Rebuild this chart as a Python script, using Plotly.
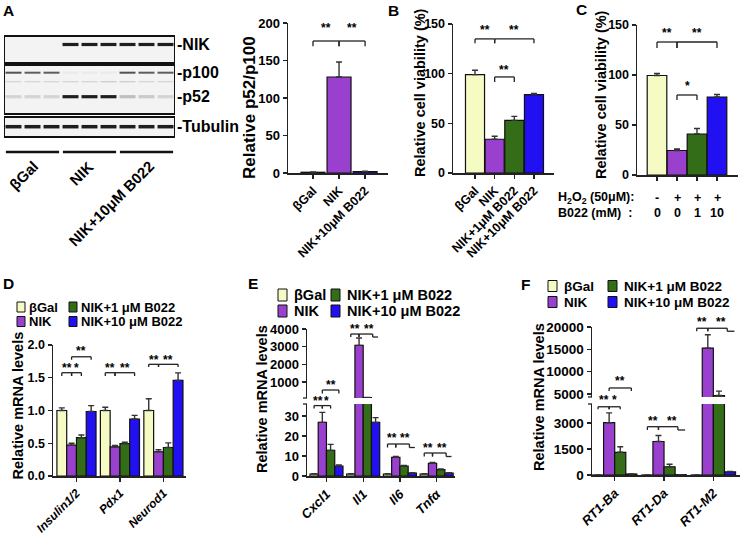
import plotly.graph_objects as go

W, H = 740, 534
FONT = "Arial, 'Liberation Sans', Helvetica, sans-serif"
AX = "#222222"

# ---------------- data ----------------
colors = ["#F6FBC3", "#9A40CF", "#336D17", "#2010F2"]  # βGal, NIK, NIK+1, NIK+10
legend_names = ["βGal", "NIK", "NIK+1 μM B022", "NIK+10 μM B022"]

# Panel A: western blot (relative band intensity per lane)
blot_lane_groups = ["βGal", "NIK", "NIK+10μM B022"]
blot_labels = ["-NIK", "-p100", "-p52", "-Tubulin"]
band_nik = [0, 0, 0, 1, 1, 1, 1, 1, 1]
band_p100 = [0.75, 0.7, 0.7, 0.05, 0.05, 0.05, 0.75, 0.7, 0.7]
band_ns = [0.15, 0.15, 0.15, 0.15, 0.15, 0.2, 0.2, 0.15, 0.15]
band_p52 = [0.15, 0.15, 0.15, 1, 1, 1, 0.25, 0.2, 0.15]
band_tub = [1, 1, 1, 1, 1, 1, 1, 1, 1]

# Panel A: quantification
a_cats = ["βGal", "NIK", "NIK+10μM B022"]
a_vals = [1, 128, 2]
a_err = [0.3, 20, 0.5]

# Panel B
b_cats = ["βGal", "NIK", "NIK+1μM B022", "NIK+10μM B022"]
b_vals = [99, 34, 53, 79]
b_err = [4.5, 3, 4, 1]

# Panel C
c_cats = ["ctrl", "H2O2", "H2O2+1", "H2O2+10"]
c_h2o2 = ["-", "+", "+", "+"]
c_b022 = ["0", "0", "1", "10"]
c_vals = [99.5, 24.5, 41, 78]
c_err = [2, 1.5, 5.5, 2.5]

# Panel D
d_genes = ["Insulin1/2", "Pdx1", "Neurod1"]
d_vals = [
    [1.0, 1.0, 1.0],
    [0.47, 0.445, 0.37],
    [0.585, 0.495, 0.435],
    [0.985, 0.87, 1.46],
]
d_errs = [
    [0.04, 0.05, 0.18],
    [0.03, 0.02, 0.03],
    [0.04, 0.02, 0.07],
    [0.09, 0.055, 0.115],
]

# Panel E
e_genes = ["Cxcl1", "Il1", "Il6", "Tnfα"]
e_vals = [
    [1, 1, 1, 1],
    [26.8, 3075, 9.3, 6.3],
    [12.8, 110, 5.0, 3.2],
    [5.0, 26.8, 1.5, 1.5],
]
e_errs = [
    [0.2, 0.2, 0.2, 0.2],
    [5, 415, 0.5, 0.5],
    [3, 15, 0.3, 0.3],
    [0.5, 2.4, 0.2, 0.2],
]

# Panel F
f_genes = ["RT1-Ba", "RT1-Da", "RT1-M2"]
f_vals = [
    [1, 1, 1],
    [3020, 1935, 15275],
    [1310, 475, 4650],
    [57, 20, 180],
]
f_errs = [
    [0, 0, 0],
    [570, 345, 3000],
    [320, 150, 1000],
    [5, 3, 20],
]

# ---------------- geometry (pixel top, pixel bottom, range) ----------------
YGEOM = {
    "y": (23, 173, 0, 200),
    "y2": (24, 173, 0, 150),
    "y3": (25, 175, 0, 150),
    "y4": (345, 476, 0, 2.0),
    "y5": (404, 476, 0, 36),
    "y6": (329, 398, 94, 4000),
    "y7": (404, 475, 0, 4100),
    "y8": (327, 397, 4330, 20000),
}

# ---------------- helpers ----------------
fig = go.Figure()
shapes, ann = [], []


def px(x):
    return x / W


def py(y):
    return 1 - y / H


def ypix(axname, v):
    top, bot, r0, r1 = YGEOM[axname]
    return bot - (v - r0) / (r1 - r0) * (bot - top)


def txt(x, y, s, size, xref="paper", yref="paper", xanchor="center", yanchor="middle",
        angle=0, weight="bold", yshift=0, style="normal"):
    ann.append(dict(x=x, y=y, xref=xref, yref=yref, text=s, showarrow=False,
                    xanchor=xanchor, yanchor=yanchor, textangle=angle, yshift=yshift,
                    font=dict(family=FONT, size=size, color="black", weight=weight, style=style)))


def line(x0, y0, x1, y1, xref, yref, w=1.3, color=AX):
    shapes.append(dict(type="line", x0=x0, y0=y0, x1=x1, y1=y1, xref=xref, yref=yref,
                       line=dict(color=color, width=w)))


def bracket(xref, yref, xa, xb, y, d, tail=None):
    line(xa, y - d, xa, y, xref, yref)
    line(xa, y, xb, y, xref, yref)
    line(xb, y, xb, y - d, xref, yref)
    if tail is not None:
        line(xb, y - d, tail, y - d, xref, yref)


def stars(xref, yname, x, v, s, size=12):
    txt(x, py(ypix(yname, v)), s, size, xref=xref, yref="paper", yshift=-3)


def break_tick(axis_x_px, yname, v):
    # small tick at the cut end of a broken axis
    yy = py(ypix(yname, v))
    line(px(axis_x_px - 4), yy, px(axis_x_px), yy, "paper", "paper", w=1.3)


def eb(arr):
    return dict(type="data", array=arr, arrayminus=[0] * len(arr), symmetric=False,
                color="#333333", thickness=1.4, width=3)


def yax(name, size, anchor, tickvals, ticktext=None):
    top, bot, r0, r1 = YGEOM[name]
    return dict(domain=[py(bot), py(top)], range=[r0, r1], anchor=anchor, showline=True,
                linecolor=AX, linewidth=1.5, ticks="outside", ticklen=4, tickwidth=1.3,
                tickcolor=AX, showgrid=False, zeroline=False, tickmode="array",
                tickvals=tickvals, ticktext=ticktext if ticktext else [str(v) for v in tickvals],
                tickfont=dict(family=FONT, size=size, color="black", weight="bold"),
                fixedrange=True, automargin=False)


def xax(left, right, rng, anchor, size, labels=True, italic=False):
    return dict(domain=[px(left), px(right)], range=rng, anchor=anchor, type="category",
                showline=True, linecolor=AX, linewidth=1.5, ticks="outside", ticklen=4,
                tickwidth=1.3, tickcolor=AX, showgrid=False, zeroline=False, tickangle=-45,
                showticklabels=labels,
                tickfont=dict(family=FONT, size=size, color="black", weight="bold",
                              style="italic" if italic else "normal"),
                fixedrange=True, automargin=False)


BAR_LINE = dict(color="#111111", width=1.2)
BARGAP = 0.1
GW = (1 - BARGAP) / 4


def gx(g, j):
    return g + (j - 1.5) * GW


# ---------------- Panel A: blot ----------------
rows = [(band_nik, 44.5, 3.2), (band_p100, 72.7, 2.0), (band_ns, 81.7, 1.2),
        (band_p52, 96.7, 3.2), (band_tub, 126.7, 3.5)]
for vals, yrow, lw in rows:
    for lane, v in enumerate(vals):
        if v <= 0:
            continue
        g = int(245 - v * 215)
        fig.add_trace(go.Scatter(x=[lane + 0.08, lane + 0.92], y=[yrow, yrow], mode="lines",
                                 line=dict(color=f"rgb({g},{g},{g})", width=lw),
                                 xaxis="x9", yaxis="y9", hoverinfo="skip", showlegend=False))
for (y0, y1) in [(36, 63), (65, 114), (117, 137)]:
    shapes.append(dict(type="rect", xref="x9", yref="y9", x0=0, x1=9, y0=y0, y1=y1,
                       fillcolor="#f3f3f3", line=dict(color="#111111", width=2), layer="below"))
for lab, yrow in zip(blot_labels, [44.5, 72.7, 96.7, 126.7]):
    txt(px(175), yrow, lab, 16, yref="y9", xanchor="left")
for g, lab in enumerate(blot_lane_groups):
    line(g * 3 + 0.1, 152, g * 3 + 2.9, 152, "x9", "y9", w=2.5, color="#111111")
for lab, xe in zip(blot_lane_groups, [44, 99, 160]):
    txt(px(xe), py(155), lab, 15, xanchor="right", yanchor="top", angle=-45)

# ---------------- Panel A: quantification ----------------
fig.add_trace(go.Bar(x=a_cats, y=a_vals, width=0.92,
                     marker=dict(color=[colors[0], colors[1], colors[3]], line=BAR_LINE),
                     error_y=eb(a_err), xaxis="x", yaxis="y", showlegend=False))
bracket("x", "y", 0, 1, 176, 7)
bracket("x", "y", 1, 2, 176, 7)
stars("x", "y", 0.5, 197, "**")
stars("x", "y", 1.5, 197, "**")

# ---------------- Panel B ----------------
fig.add_trace(go.Bar(x=b_cats, y=b_vals, width=0.97,
                     marker=dict(color=colors, line=BAR_LINE),
                     error_y=eb(b_err), xaxis="x2", yaxis="y2", showlegend=False))
bracket("x2", "y2", 0, 1, 135, 4.5)
bracket("x2", "y2", 1, 3, 135, 4.5)
bracket("x2", "y2", 1, 2, 96.7, 5)
stars("x2", "y2", 0.5, 147, "**")
stars("x2", "y2", 2.0, 147, "**")
stars("x2", "y2", 1.5, 107, "**")

# ---------------- Panel C ----------------
fig.add_trace(go.Bar(x=c_cats, y=c_vals, width=0.98,
                     marker=dict(color=colors, line=BAR_LINE),
                     error_y=eb(c_err), xaxis="x3", yaxis="y3", showlegend=False))
bracket("x3", "y3", 0, 1, 133, 6)
bracket("x3", "y3", 1, 3, 133, 6)
bracket("x3", "y3", 1, 2, 80, 5)
stars("x3", "y3", 0.5, 145, "**")
stars("x3", "y3", 2.0, 145, "**")
stars("x3", "y3", 1.5, 92, "*")
txt(px(556), py(198), "H<sub>2</sub>O<sub>2</sub> (50μM):", 12.5, xanchor="left")
txt(px(556), py(213), "B022 (mM)  :", 12.5, xanchor="left")
for i, (h, b) in enumerate(zip(c_h2o2, c_b022)):
    txt(i, py(198), h, 12.5, xref="x3")
    txt(i, py(213), b, 12.5, xref="x3")

# ---------------- Panel D ----------------
for j in range(4):
    fig.add_trace(go.Bar(x=d_genes, y=d_vals[j], name=legend_names[j],
                         marker=dict(color=colors[j], line=BAR_LINE),
                         error_y=eb(d_errs[j]), xaxis="x4", yaxis="y4", showlegend=False))
bracket("x4", "y4", gx(0, 0), gx(0, 1), 1.577, 0.05)
bracket("x4", "y4", gx(0, 1), gx(0, 2), 1.577, 0.05)
bracket("x4", "y4", gx(0, 1), gx(0, 3), 1.82, 0.045)
stars("x4", "y4", (gx(0, 0) + gx(0, 1)) / 2, 1.69, "**")
stars("x4", "y4", (gx(0, 1) + gx(0, 2)) / 2, 1.69, "*")
stars("x4", "y4", (gx(0, 1) + gx(0, 3)) / 2, 1.95, "**")
bracket("x4", "y4", gx(1, 0), gx(1, 1), 1.577, 0.05)
bracket("x4", "y4", gx(1, 1), gx(1, 3), 1.577, 0.05)
stars("x4", "y4", (gx(1, 0) + gx(1, 1)) / 2, 1.70, "**")
stars("x4", "y4", (gx(1, 1) + gx(1, 3)) / 2, 1.70, "**")
bracket("x4", "y4", gx(2, 0), gx(2, 1), 1.705, 0.04)
bracket("x4", "y4", gx(2, 1), gx(2, 3), 1.705, 0.04)
stars("x4", "y4", (gx(2, 0) + gx(2, 1)) / 2, 1.81, "**")
stars("x4", "y4", (gx(2, 1) + gx(2, 3)) / 2, 1.81, "**")

# ---------------- Panel E (broken axis) ----------------
for j in range(4):
    for xa, ya in [("x5", "y5"), ("x6", "y6")]:
        fig.add_trace(go.Bar(x=e_genes, y=e_vals[j], name=legend_names[j],
                             marker=dict(color=colors[j], line=BAR_LINE),
                             error_y=eb(e_errs[j]), xaxis=xa, yaxis=ya, showlegend=False))
break_tick(307, "y5", 36)
break_tick(307, "y6", 94)
# Cxcl1
bracket("x5", "y5", gx(0, 0), gx(0, 1), 35.2, 1.5)
bracket("x5", "y5", gx(0, 1), gx(0, 2), 35.2, 1.5)
stars("x5", "y5", (gx(0, 0) + gx(0, 1)) / 2, 39, "**")
stars("x5", "y5", (gx(0, 1) + gx(0, 2)) / 2, 39, "*")
bracket("x6", "y6", gx(0, 1), gx(0, 3), 547, 200)
stars("x6", "y6", (gx(0, 1) + gx(0, 3)) / 2, 1000, "**")
# Il1
tail1 = gx(1, 3) + 0.3 * GW
bracket("x6", "y6", gx(1, 0), gx(1, 1), 3716, 170)
bracket("x6", "y6", gx(1, 1), gx(1, 3) - 0.35 * GW, 3716, 170, tail=tail1)
stars("x6", "y6", (gx(1, 0) + gx(1, 1)) / 2, 4170, "**")
stars("x6", "y6", (gx(1, 1) + tail1) / 2, 4170, "**")
# Il6
tail2 = gx(2, 3) + 0.3 * GW
bracket("x5", "y5", gx(2, 0), gx(2, 1), 16, 1.75)
bracket("x5", "y5", gx(2, 1), gx(2, 3) - 0.35 * GW, 16, 1.75, tail=tail2)
stars("x5", "y5", (gx(2, 0) + gx(2, 1)) / 2, 20.5, "**")
stars("x5", "y5", (gx(2, 1) + tail2) / 2, 20.5, "**")
# Tnfa
tail3 = gx(3, 3) + 0.3 * GW
bracket("x5", "y5", gx(3, 0), gx(3, 1), 11.5, 1.75)
bracket("x5", "y5", gx(3, 1), gx(3, 3) - 0.35 * GW, 11.5, 1.75, tail=tail3)
stars("x5", "y5", (gx(3, 0) + gx(3, 1)) / 2, 15.5, "**")
stars("x5", "y5", (gx(3, 1) + tail3) / 2, 15.5, "**")

# ---------------- Panel F (broken axis) ----------------
for j in range(4):
    for xa, ya in [("x7", "y7"), ("x8", "y8")]:
        fig.add_trace(go.Bar(x=f_genes, y=f_vals[j], name=legend_names[j],
                             marker=dict(color=colors[j], line=BAR_LINE),
                             error_y=eb(f_errs[j]), xaxis=xa, yaxis=ya, showlegend=False))
break_tick(592, "y7", 4100)
break_tick(592, "y8", 4330)
# RT1-Ba
bracket("x7", "y7", gx(0, 0), gx(0, 1), 3940, 140)
bracket("x7", "y7", gx(0, 1), gx(0, 2), 3940, 140)
stars("x7", "y7", (gx(0, 0) + gx(0, 1)) / 2, 4500, "**")
stars("x7", "y7", (gx(0, 1) + gx(0, 2)) / 2, 4500, "*")
bracket("x8", "y8", gx(0, 1), gx(0, 3), 6350, 670)
stars("x8", "y8", (gx(0, 1) + gx(0, 3)) / 2, 8580, "**")
# RT1-Da
tail4 = gx(1, 3) + 0.4 * GW
bracket("x7", "y7", gx(1, 0), gx(1, 1), 2790, 190)
bracket("x7", "y7", gx(1, 1), gx(1, 3) - 0.25 * GW, 2790, 190, tail=tail4)
stars("x7", "y7", (gx(1, 0) + gx(1, 1)) / 2, 3300, "**")
stars("x7", "y7", (gx(1, 1) + tail4) / 2, 3300, "**")
# RT1-M2
tail5 = gx(2, 3) + 0.4 * GW
bracket("x8", "y8", gx(2, 0), gx(2, 1), 19720, 670)
bracket("x8", "y8", gx(2, 1), gx(2, 3) - 0.25 * GW, 19720, 670, tail=tail5)
stars("x8", "y8", (gx(2, 0) + gx(2, 1)) / 2, 21800, "**")
stars("x8", "y8", (gx(2, 1) + tail5) / 2, 21800, "**")

# ---------------- legends (D, E, F) ----------------
def legend(xb1, xb2, y1, y2, bw, bh, fs, gap):
    spec = [(0, xb1, y1), (2, xb2, y1), (1, xb1, y2), (3, xb2, y2)]
    for j, xb, yy in spec:
        shapes.append(dict(type="rect", xref="paper", yref="paper", x0=px(xb), x1=px(xb + bw),
                           y0=py(yy + bh / 2), y1=py(yy - bh / 2), fillcolor=colors[j],
                           line=dict(color="#111111", width=1)))
        txt(px(xb + bw + gap), py(yy), legend_names[j], fs, xanchor="left")


legend(17, 69, 307, 321.5, 8, 10, 13, 2)
legend(278, 331, 295, 311, 9, 12, 14.5, 5)
legend(548, 608, 286, 302, 9, 11, 13.5, 5)

# ---------------- titles & panel letters ----------------
TS = 14.5
txt(px(249), py(108), "Relative p52/p100", 17, angle=-90)
txt(px(420), py(93), "Relative cell viability (%)", TS, angle=-90)
txt(px(601), py(95), "Relative cell viability (%)", TS, angle=-90)
txt(px(17.5), py(406), "Relative mRNA levels", TS, angle=-90)
txt(px(262), py(399), "Relative mRNA levels", TS, angle=-90)
txt(px(539), py(397), "Relative mRNA levels", TS, angle=-90)
for letter, x, y in [("A", 8, 10), ("B", 393, 10), ("C", 581, 9), ("D", 8, 283),
                     ("E", 253, 283), ("F", 525, 284)]:
    txt(px(x), py(y), letter, 15.5)

# ---------------- layout ----------------
layout = dict(
    width=W, height=H, margin=dict(l=0, r=0, t=0, b=0, pad=0, autoexpand=False),
    paper_bgcolor="white", plot_bgcolor="rgba(0,0,0,0)",
    barmode="group", bargap=BARGAP, bargroupgap=0, showlegend=False,
    xaxis=xax(288, 388, [-0.96, 2.88], "y", 12.5),
    yaxis=yax("y", 13, "x", [0, 50, 100, 150, 200]),
    xaxis2=xax(453, 554, [-1.12, 4.02], "y2", 12.5),
    yaxis2=yax("y2", 12.5, "x2", [0, 50, 100, 150]),
    xaxis3=xax(637, 738, [-1.0, 4.05], "y3", 12.5, labels=False),
    yaxis3=yax("y3", 12.5, "x3", [0, 50, 100, 150]),
    xaxis4=xax(53, 186, [-0.54, 2.52], "y4", 12, italic=True),
    yaxis4=yax("y4", 12.5, "x4", [0, 0.5, 1.0, 1.5, 2.0], ["0.0", "0.5", "1.0", "1.5", "2.0"]),
    xaxis5=xax(307, 455, [-0.53, 3.5], "y5", 13, italic=True),
    yaxis5=yax("y5", 13, "x5", [0, 10, 20, 30]),
    xaxis6=dict(xax(307, 455, [-0.53, 3.5], "y6", 13), visible=False),
    yaxis6=yax("y6", 13, "x6", [1000, 2000, 3000, 4000]),
    xaxis7=xax(592, 740, [-0.46, 2.54], "y7", 13, italic=True),
    yaxis7=yax("y7", 13.5, "x7", [0, 1500, 3000]),
    xaxis8=dict(xax(592, 740, [-0.46, 2.54], "y8", 13), visible=False),
    yaxis8=yax("y8", 13.5, "x8", [5000, 10000, 15000, 20000]),
    xaxis9=dict(domain=[px(4), px(175)], range=[0, 9], anchor="y9", visible=False,
                fixedrange=True, automargin=False),
    yaxis9=dict(domain=[py(160), py(30)], range=[160, 30], anchor="x9", visible=False,
                fixedrange=True, automargin=False),
    shapes=shapes, annotations=ann,
    font=dict(family=FONT, color="black"),
)
fig.update_layout(**layout)
fig.write_html("out.html", config={"displayModeBar": False, "staticPlot": True},
               post_script="document.body.style.margin='0';document.body.style.padding='0';"
                           "document.body.style.overflow='hidden';")
